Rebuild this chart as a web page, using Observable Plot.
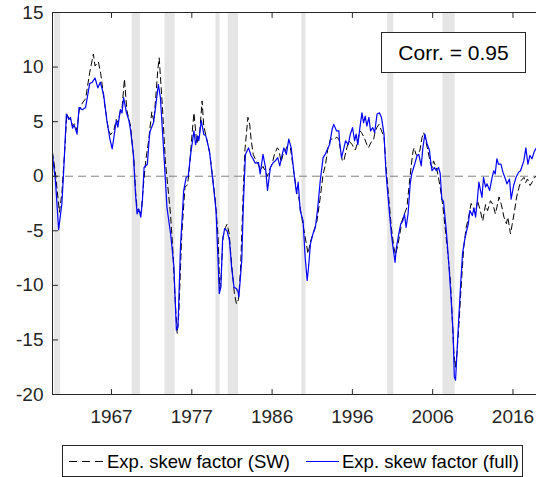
<!DOCTYPE html>
<html><head><meta charset="utf-8">
<script src="https://cdn.jsdelivr.net/npm/d3@7"></script>
<script src="https://cdn.jsdelivr.net/npm/@observablehq/plot@0.6"></script>
<style>
body{margin:0;background:#fff;font-family:"Liberation Sans",Arial,sans-serif;}
#wrap{position:relative;width:536px;height:477px;overflow:hidden;background:#fff;}
#corr{position:absolute;left:381px;top:32px;width:143px;height:39px;border:1px solid #262626;background:#fff;font-size:21px;line-height:40px;text-align:center;color:#000;box-sizing:content-box;}
#legend{position:absolute;left:62px;top:445px;width:459px;height:30px;border:1px solid #262626;background:#fff;color:#000;font-size:18.5px;}
#legend span{position:absolute;top:0;line-height:31px;white-space:nowrap;}
#legend svg{position:absolute;top:14px;}
</style></head>
<body><div id="wrap"><div id="chart"></div>
<div id="corr">Corr. = 0.95</div>
<div id="legend">
<svg style="left:6px" width="34" height="3"><line x1="0" y1="1.5" x2="34" y2="1.5" stroke="#000" stroke-width="1" stroke-dasharray="8,5"/></svg>
<span style="left:44px">Exp. skew factor (SW)</span>
<svg style="left:243px" width="33" height="3"><line x1="0" y1="1.5" x2="33" y2="1.5" stroke="#0000ff" stroke-width="1.2"/></svg>
<span style="left:279px">Exp. skew factor (full)</span>
</div></div>
<script>
// NBER recessions (quarterly starts)
const recStart = [1960.25, 1969.75, 1973.75, 1980.0, 1981.5, 1990.5, 2001.0, 2007.75];
const recEnd   = [1961.0, 1970.75, 1975.0, 1980.5, 1982.75, 1991.0, 2001.75, 2009.25];

const xTicks = [1967.22, 1977.04, 1986.86, 1996.68, 2006.5, 2016.32];
const xTickLabels = ["1967", "1977", "1986", "1996", "2006", "2016"];
const yTicks = [-20, -15, -10, -5, 0, 5, 10, 15];
const yTickLabels = ["-20", "-15", "-10", "-5", "0", "5", "10", "15"];

// Exp. skew factor (full)
const fullDate = [1960.00,1960.15,1960.35,1960.75,1961.15,1961.35,1961.70,1962.00,1962.20,1962.45,1962.65,1963.00,1963.25,1963.65,1964.05,1964.55,1964.85,1965.20,1965.55,1965.85,1966.25,1966.65,1967.00,1967.30,1967.50,1967.80,1968.00,1968.30,1968.50,1968.70,1969.05,1969.35,1969.55,1969.90,1970.15,1970.35,1970.55,1970.80,1971.00,1971.20,1971.60,1971.85,1971.95,1972.35,1972.55,1972.95,1973.20,1973.60,1974.00,1974.45,1974.85,1975.15,1975.35,1975.65,1976.05,1976.35,1976.60,1976.90,1977.30,1977.50,1977.75,1977.90,1978.20,1978.50,1978.75,1979.20,1979.70,1980.00,1980.25,1980.40,1980.60,1980.80,1981.05,1981.35,1981.65,1981.90,1982.20,1982.50,1982.70,1982.80,1983.15,1983.35,1983.60,1983.98,1984.28,1984.53,1984.78,1985.20,1985.40,1985.75,1986.05,1986.30,1986.65,1987.00,1987.25,1987.55,1987.80,1988.10,1988.30,1988.60,1988.90,1989.20,1989.55,1989.85,1990.05,1990.30,1990.65,1990.90,1991.15,1991.30,1991.55,1991.85,1992.15,1992.45,1992.75,1993.10,1993.35,1993.70,1993.90,1994.20,1994.40,1994.75,1995.03,1995.10,1995.35,1995.65,1995.85,1996.17,1996.43,1996.70,1996.95,1997.14,1997.35,1997.60,1997.85,1998.05,1998.25,1998.45,1998.70,1998.90,1999.17,1999.40,1999.70,2000.00,2000.24,2000.55,2000.80,2001.15,2001.45,2001.70,2001.90,2002.05,2002.35,2002.60,2002.85,2003.05,2003.25,2003.49,2003.75,2003.95,2004.30,2004.60,2004.80,2005.10,2005.30,2005.55,2005.80,2006.10,2006.25,2006.42,2006.72,2006.94,2007.22,2007.42,2007.62,2007.82,2008.17,2008.47,2008.77,2009.00,2009.15,2009.30,2009.55,2009.90,2010.15,2010.40,2010.65,2010.85,2011.05,2011.35,2011.55,2011.75,2011.95,2012.15,2012.35,2012.53,2012.72,2012.97,2013.15,2013.47,2013.77,2013.97,2014.15,2014.35,2014.55,2014.85,2015.10,2015.40,2015.58,2015.90,2016.10,2016.40,2016.70,2017.00,2017.25,2017.65,2017.90,2018.15,2018.40,2018.65,2018.95,2019.20];
const fullValue = [2.0,0.9,-0.3,-4.9,-2.5,0.2,5.7,5.2,5.4,4.4,4.7,3.85,6.3,6.1,6.3,8.5,8.6,9.0,8.1,8.6,7.5,5.1,3.5,2.5,3.5,5.1,4.5,6.1,5.8,7.2,5.8,5.1,4.2,2.0,-1.6,-3.45,-3.0,-3.75,-2.2,0.8,1.1,3.6,4.15,4.9,6.0,8.4,7.2,2.3,-2.85,-5.3,-8.3,-14.1,-13.8,-6.5,-1.3,-0.1,0.0,2.0,4.15,2.9,3.7,3.25,5.1,3.85,3.7,2.3,-1.0,-3.15,-7.7,-10.75,-10.15,-5.9,-4.8,-5.0,-5.9,-8.3,-10.15,-10.3,-10.6,-11.05,-7.7,-2.5,2.0,2.6,1.9,1.6,1.2,1.25,0.2,2.0,0.8,-1.3,0.8,1.25,1.4,1.7,0.95,2.0,2.6,2.0,3.4,2.6,0.2,-1.6,-0.55,-3.15,-4.1,-7.4,-9.55,-8.5,-6.2,-5.3,-4.7,-2.85,-0.4,1.7,2.0,2.6,2.9,4.3,4.75,4.15,4.15,3.25,1.7,2.6,3.25,2.9,3.85,4.45,3.25,3.85,2.9,4.45,5.8,4.9,5.5,4.6,5.4,4.15,4.45,4.0,5.7,5.8,5.37,3.85,0.2,-2.85,-5.3,-6.8,-7.9,-6.6,-5.3,-4.35,-4.1,-3.45,-4.7,-3.45,-0.7,0.25,1.1,1.9,2.0,0.95,2.6,3.85,3.0,2.4,1.4,0.5,0.8,0.5,0.8,0.25,-2.1,-2.3,-5.0,-8.0,-11.4,-14.4,-18.4,-18.7,-15.0,-10.15,-7.1,-5.9,-5.0,-4.4,-3.15,-3.6,-2.9,-3.75,-2.3,-0.55,-1.3,-1.94,-0.1,-1.0,-0.7,-1.3,-0.1,0.5,0.2,1.6,1.1,1.1,0.35,-0.25,-0.7,-0.25,-2.1,-0.85,-0.1,0.35,0.5,1.4,2.6,1.1,1.9,1.6,2.3,2.6];

// Exp. skew factor (SW)
const swDate = [1960.00,1960.35,1960.85,1961.15,1961.55,1961.75,1962.00,1962.25,1962.45,1962.70,1963.00,1963.25,1963.65,1964.05,1964.55,1965.00,1965.20,1965.60,1965.90,1966.30,1966.85,1967.10,1967.50,1967.80,1968.00,1968.30,1968.50,1968.80,1969.10,1969.55,1969.95,1970.20,1970.35,1970.65,1970.85,1971.10,1971.40,1971.75,1971.95,1972.15,1972.40,1972.90,1973.05,1973.45,1973.80,1974.43,1974.70,1975.00,1975.25,1975.45,1975.80,1976.20,1976.50,1976.68,1977.10,1977.30,1977.65,1978.00,1978.30,1978.50,1978.90,1979.25,1979.92,1980.25,1980.45,1980.60,1980.85,1981.16,1981.35,1981.60,1981.90,1982.25,1982.50,1982.75,1983.00,1983.35,1983.55,1983.90,1984.13,1984.31,1984.55,1984.85,1985.10,1985.45,1985.75,1986.05,1986.30,1986.60,1986.85,1987.15,1987.50,1987.70,1987.95,1988.20,1988.45,1988.75,1989.10,1989.55,1989.90,1990.10,1990.35,1990.70,1991.05,1991.25,1991.55,1991.85,1992.35,1992.75,1993.10,1993.40,1993.65,1994.00,1994.55,1994.75,1995.01,1995.45,1995.63,1996.00,1996.25,1996.65,1996.85,1997.05,1997.35,1997.60,1997.80,1998.15,1998.45,1998.65,1998.95,1999.25,1999.40,1999.65,1999.95,2000.25,2000.55,2000.80,2001.15,2001.45,2001.75,2001.95,2002.25,2002.55,2002.75,2003.05,2003.35,2003.60,2003.85,2004.10,2004.25,2004.45,2004.65,2004.95,2005.20,2005.40,2005.65,2005.90,2006.25,2006.45,2006.60,2006.85,2007.05,2007.40,2007.77,2008.02,2008.32,2008.67,2008.87,2009.07,2009.27,2009.47,2009.67,2009.96,2010.30,2010.60,2010.90,2011.20,2011.42,2011.72,2011.99,2012.32,2012.62,2012.97,2013.22,2013.57,2013.88,2014.17,2014.35,2014.62,2014.90,2015.22,2015.52,2015.69,2016.02,2016.23,2016.52,2016.77,2017.07,2017.32,2017.67,2017.87,2018.10,2018.42,2018.70,2018.95,2019.20];
const swValue = [2.2,0.3,-3.3,-1.5,3.0,5.7,5.3,5.2,4.6,4.8,4.2,6.0,6.7,7.1,9.5,11.2,10.1,10.5,9.4,7.0,4.2,3.8,4.2,5.2,4.9,6.0,6.2,8.9,6.0,4.6,1.5,-1.8,-3.0,-3.3,-3.3,-1.0,1.4,3.2,4.6,5.9,5.0,9.9,10.85,6.3,1.4,-3.45,-6.5,-11.3,-14.4,-12.6,-5.5,-1.0,-0.8,0.2,4.15,5.8,3.0,4.0,6.9,4.6,3.3,2.0,-2.2,-5.5,-10.3,-9.5,-5.6,-4.7,-4.4,-5.2,-8.0,-10.75,-11.7,-11.3,-8.5,-1.0,2.5,5.4,4.7,3.25,2.0,1.5,1.2,0.6,0.9,0.4,0.0,0.7,1.1,2.0,2.6,2.4,1.3,2.0,2.3,2.8,2.6,0.2,-1.6,-1.8,-3.15,-4.7,-6.2,-7.1,-6.0,-5.3,-4.1,-1.95,0.2,1.1,2.4,3.4,3.4,3.6,3.4,1.4,1.4,2.6,3.25,2.9,2.6,2.4,3.25,4.15,4.0,3.5,2.9,2.6,3.1,3.25,3.85,4.45,4.75,4.15,3.6,0.8,-2.2,-4.7,-6.5,-7.2,-6.3,-5.0,-4.1,-3.45,-2.85,-1.0,0.8,2.3,2.6,2.0,1.9,2.4,3.55,4.0,3.25,2.4,1.1,0.8,1.4,0.95,0.5,-0.9,-2.85,-4.7,-6.8,-9.55,-12.6,-15.9,-17.5,-16.3,-14.1,-10.4,-6.5,-4.7,-3.75,-2.5,-2.85,-3.4,-2.25,-3.15,-4.1,-2.6,-3.15,-2.25,-2.6,-3.45,-2.85,-1.9,-2.6,-3.75,-4.35,-3.75,-5.3,-4.4,-3.15,-1.9,-1.0,-0.4,-0.1,-0.6,-0.25,-0.85,-0.5,-0.1,0.0];

const xDomain = [1960.0, 2019.2];
const yDomain = [-20, 15];
const axisColor = "#262626";

const recessions = recStart.map((s, i) => ({start: s, end: recEnd[i]}));
const full = fullDate.map((d, i) => ({date: d, value: fullValue[i]}));
const sw = swDate.map((d, i) => ({date: d, value: swValue[i]}));

const tickShape = {draw(ctx, l) { ctx.moveTo(0, 0); ctx.lineTo(0, -l); }};

const chart = Plot.plot({
  width: 536,
  height: 436,
  marginLeft: 52,
  marginRight: 0,
  marginTop: 12,
  marginBottom: 42,
  style: {fontFamily: "'Liberation Sans', Arial, sans-serif", fontSize: "19px", color: axisColor, background: "#fff", overflow: "visible"},
  x: {domain: xDomain, label: null},
  y: {domain: yDomain, label: null},
  marks: [
    Plot.rect(recessions, {x1: "start", x2: "end", fill: "#e5e5e5"}),
    Plot.ruleY([0], {stroke: "#808080", strokeWidth: 1, strokeDasharray: "8,5"}),
    Plot.line(sw, {x: "date", y: "value", stroke: "#000", strokeWidth: 1, strokeDasharray: "6,4"}),
    Plot.line(full, {x: "date", y: "value", stroke: "#0000ff", strokeWidth: 1.2}),
    Plot.ruleX([xDomain[0]], {stroke: axisColor, strokeWidth: 1}),
    Plot.ruleY([yDomain[0], yDomain[1]], {stroke: axisColor, strokeWidth: 1}),
    Plot.vector(yTicks, {x: xDomain[0], y: d => d, length: 5, rotate: 90, anchor: "start", shape: tickShape, stroke: axisColor, strokeWidth: 1}),
    Plot.vector(xTicks, {x: d => d, y: yDomain[0], length: 5, rotate: 0, anchor: "start", shape: tickShape, stroke: axisColor, strokeWidth: 1}),
    Plot.vector(xTicks, {x: d => d, y: yDomain[1], length: 5, rotate: 180, anchor: "start", shape: tickShape, stroke: axisColor, strokeWidth: 1}),
    Plot.axisY({ticks: yTicks, tickFormat: d => yTickLabels[yTicks.indexOf(d)], tickSize: 0, tickPadding: 9, fontSize: 19, fill: axisColor}),
    Plot.axisX({ticks: xTicks, tickFormat: d => xTickLabels[xTicks.indexOf(d)], tickSize: 0, tickPadding: 15, fontSize: 19, fill: axisColor})
  ]
});
document.getElementById("chart").appendChild(chart);
</script>
</body></html>
